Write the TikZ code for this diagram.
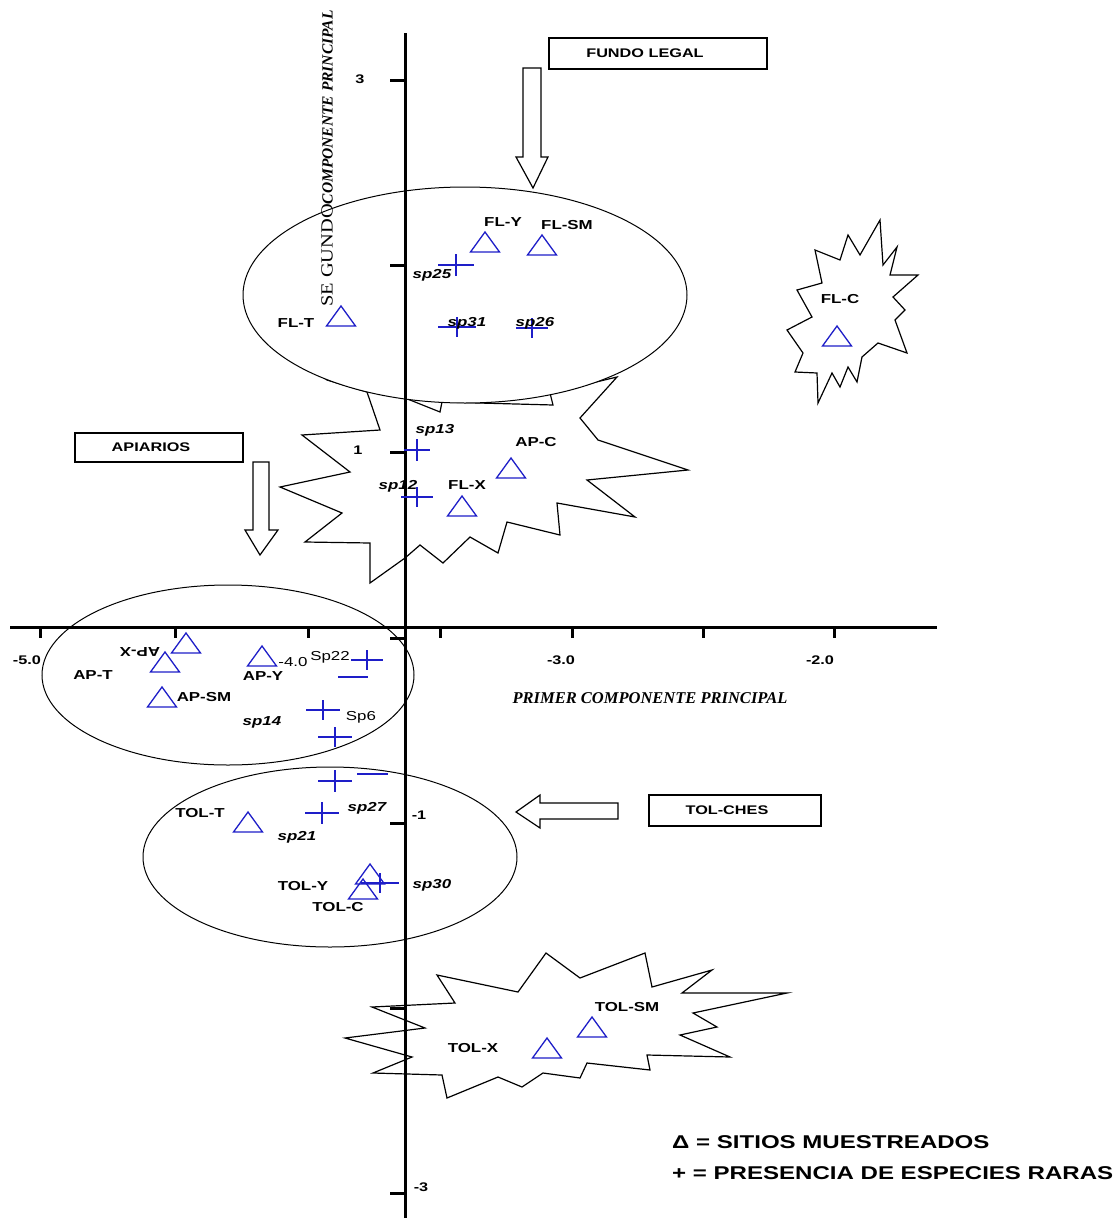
\documentclass[tikz,border=0pt]{standalone}
\usepackage{fontspec}
\setmainfont{Liberation Sans}
\newfontfamily\lab[FakeStretch=1.3]{Liberation Sans}
\newfontfamily\segf[FakeStretch=1.2]{Liberation Serif}
\newfontfamily\serf{Liberation Serif}
\definecolor{markblue}{RGB}{30,30,200}
\newcommand\tri[3]{\coordinate (#1) at (#2,#3);
  \draw[trimark] (#1) +(-14.5,10) -- +(14.5,10) -- +(0,-10) -- cycle;}
\newcommand\plusm[5]{\coordinate (#1) at (#2,#3);
  \draw[plusmark] (#1) +(-#4,0) -- +(#4,0) (#1) +(0,-#5) -- +(0,#5);}
\begin{document}
\begin{tikzpicture}[x=1pt,y=-1pt,
  outl/.style={draw=black,line width=1.2pt,line join=miter,fill=white},
  ell/.style={draw=black,line width=1pt,fill=white},
  axisline/.style={draw=black,line width=3pt},
  axtick/.style={draw=black,line width=3pt},
  trimark/.style={draw=markblue,line width=1.3pt,line join=miter},
  plusmark/.style={draw=markblue,line width=1.3pt},
  boxs/.style={draw=black,line width=1.4pt,fill=white,inner sep=0pt,
     font=\lab\bfseries\fontsize{12.5}{13}\selectfont},
  lbl/.style={font=\lab\bfseries\fontsize{13}{13}\selectfont,inner sep=0pt},
  splbl/.style={font=\lab\bfseries\itshape\fontsize{13}{13}\selectfont,inner sep=0pt},
  uplbl/.style={font=\lab\fontsize{13}{13}\selectfont,inner sep=0pt},
  numlbl/.style={font=\lab\bfseries\fontsize{12.5}{12}\selectfont,inner sep=0pt},
  legend/.style={font=\lab\bfseries\fontsize{18.5}{19}\selectfont,inner sep=0pt,anchor=west}]
\useasboundingbox (0,0) rectangle (1119,1218);
\fill[white] (0,0) rectangle (1119,1218);

% middle star (top hidden by ellipse)
\draw[outl] (300,360) -- (327,380) -- (367,392) -- (380,430) -- (302,435) -- (350,472)
  -- (280,487) -- (342,513) -- (305,542) -- (370,543) -- (370,583) -- (405,558)
  -- (420,545) -- (443,563) -- (470,537) -- (498,553) -- (507,522) -- (560,535)
  -- (557,503) -- (635,517) -- (587,480) -- (688,470) -- (598,440) -- (580,418)
  -- (617,377) -- (550,393) -- (553,405) -- (442,402) -- (440,412) -- (405,398)
  -- (380,360) -- cycle;
% upper ellipse
\draw[ell] (465,295) ellipse [x radius=222pt, y radius=108pt];

% FL-C star
\draw[outl] (880,220) -- (860,255) -- (848,235) -- (840,260) -- (815,250) -- (822,283)
  -- (797,290) -- (812,317) -- (787,330) -- (803,353) -- (795,372) -- (817,373)
  -- (818,403) -- (832,373) -- (840,387) -- (848,367) -- (857,382) -- (862,357)
  -- (878,343) -- (907,353) -- (895,320) -- (905,310) -- (893,297) -- (918,275)
  -- (890,275) -- (897,247) -- (883,265) -- cycle;

% bottom star
\draw[outl] (437,975) -- (455,1003) -- (372,1007) -- (425,1028) -- (345,1038)
  -- (412,1057) -- (373,1073) -- (442,1075) -- (447,1098) -- (498,1077)
  -- (522,1087) -- (543,1073) -- (580,1078) -- (587,1063) -- (650,1070)
  -- (647,1055) -- (730,1057) -- (680,1035) -- (717,1027) -- (693,1013)
  -- (787,993) -- (682,993) -- (712,970) -- (652,987) -- (645,953)
  -- (580,978) -- (546,953) -- (518,992) -- cycle;

% lower ellipses
\draw[ell] (228,675) ellipse [x radius=186pt, y radius=90pt];
\draw[ell] (330,857) ellipse [x radius=187pt, y radius=90pt];

% boxes
\node[boxs,minimum width=218pt,minimum height=31pt] (fl) at (658,53.5) {FUNDO LEGAL\hspace*{26pt}};
\node[boxs,minimum width=168pt,minimum height=29pt] (ap) at (159,447.5) {APIARIOS\hspace*{16pt}};
\node[boxs,minimum width=172pt,minimum height=31pt] (tc) at (735,810.5) {TOL-CHES\hspace*{16pt}};

% block arrows
\draw[outl] (523,68) -- (541,68) -- (541,157) -- (548,157) -- (533,188) -- (516,157) -- (523,157) -- cycle;
\draw[outl] (253,462) -- (269,462) -- (269,530) -- (278,530) -- (260,555) -- (245,530) -- (253,530) -- cycle;
\draw[outl] (618,803) -- (540,803) -- (540,795) -- (516,812) -- (540,828) -- (540,819) -- (618,819) -- cycle;

% axes
\draw[axisline] (405,33) -- (405,1218);
\draw[axisline] (10,627) -- (937,627);
\foreach \yy in {80,265,452,638,823,1008,1193} \draw[axtick] (390,\yy) -- (405,\yy);
\foreach \xx in {40,175,308,440,572,703,834} \draw[axtick] (\xx,627) -- (\xx,638);

% axis labels
\node[numlbl] (n5) at (27,660) {-5.0};
\node[uplbl] (n4) at (293,662) {-4.0};
\node[numlbl] (n3) at (561,660) {-3.0};
\node[numlbl] (n2) at (820,660) {-2.0};
\node[numlbl] (v3) at (360,79) {3};
\node[numlbl] (v1) at (358,450) {1};
\node[numlbl] (vm1) at (419,815) {-1};
\node[numlbl] (vm3) at (421,1187) {-3};
\node[font=\serf\bfseries\itshape\fontsize{16.5}{16}\selectfont,inner sep=0pt] (xt) at (650,698) {PRIMER COMPONENTE PRINCIPAL};
\node[rotate=90,anchor=west,inner sep=0pt] (yt) at (327,307)
  {{\segf\fontsize{17}{17}\selectfont SE GUNDO}{\serf\bfseries\itshape\fontsize{15.5}{16}\selectfont COMPONENTE PRINCIPAL}};

% triangles
\tri{flY}{485}{242}
\tri{flSM}{542}{245}
\tri{flT}{341}{316}
\tri{flC}{837}{336}
\tri{apC}{511}{468}
\tri{flX}{462}{506}
\tri{apX}{186}{643}
\tri{apT}{165}{662}
\tri{apY}{262}{656}
\tri{apSM}{162}{697}
\tri{tolT}{248}{822}
\tri{tolY}{370}{874}
\tri{tolC}{363}{889}
\tri{tolSM}{592}{1027}
\tri{tolX}{547}{1048}

% pluses
\plusm{p25}{456}{265}{18}{11}
\plusm{p31}{457}{327}{19}{10}
\plusm{p26}{532}{328}{16}{10}
\plusm{p13}{417}{450}{13}{11}
\plusm{p12}{417}{497}{16}{10}
\plusm{p22}{367}{660}{16}{10}
\plusm{p6}{323}{710}{17}{10}
\plusm{pa}{335}{737}{17}{10}
\plusm{pb}{335}{781}{17}{11}
\plusm{p27}{322}{813}{17}{11}
\plusm{p30}{380}{883}{19}{10}
\coordinate (d1a) at (338,677); \coordinate (d1b) at (368,677);
\draw[plusmark] (d1a) -- (d1b);
\coordinate (d2a) at (357,774); \coordinate (d2b) at (388,774);
\draw[plusmark] (d2a) -- (d2b);

% site labels
\node[lbl] (lFLY) at (503,222) {FL-Y};
\node[lbl] (lFLSM) at (567,225) {FL-SM};
\node[lbl] (lFLT) at (296,323) {FL-T};
\node[lbl] (lFLC) at (840,299) {FL-C};
\node[lbl] (lAPC) at (536,442) {AP-C};
\node[lbl] (lFLX) at (467,485) {FL-X};
\node[lbl,rotate=180] (lAPX) at (140,652) {AP-X};
\node[lbl] (lAPT) at (93,675) {AP-T};
\node[lbl] (lAPY) at (263,676) {AP-Y};
\node[lbl] (lAPSM) at (204,697) {AP-SM};
\node[lbl] (lTOLT) at (200,813) {TOL-T};
\node[lbl] (lTOLY) at (303,886) {TOL-Y};
\node[lbl] (lTOLC) at (338,907) {TOL-C};
\node[lbl] (lTOLSM) at (627,1007) {TOL-SM};
\node[lbl] (lTOLX) at (473,1048) {TOL-X};

% species labels
\node[splbl] (s25) at (432,275) {sp25};
\node[splbl] (s31) at (467,323) {sp31};
\node[splbl] (s26) at (535,323) {sp26};
\node[splbl] (s13) at (435,430) {sp13};
\node[splbl] (s12) at (398,486) {sp12};
\node[splbl] (s14) at (262,722) {sp14};
\node[splbl] (s27) at (367,808) {sp27};
\node[splbl] (s21) at (297,837) {sp21};
\node[splbl] (s30) at (432,885) {sp30};
\node[uplbl] (s22) at (330,657) {Sp22};
\node[uplbl] (s6) at (361,717) {Sp6};

% legend
\node[legend] (lg1) at (672,1142) {Δ = SITIOS MUESTREADOS};
\node[legend] (lg2) at (672,1173) {+ = PRESENCIA DE ESPECIES RARAS};
\end{tikzpicture}
\end{document}
